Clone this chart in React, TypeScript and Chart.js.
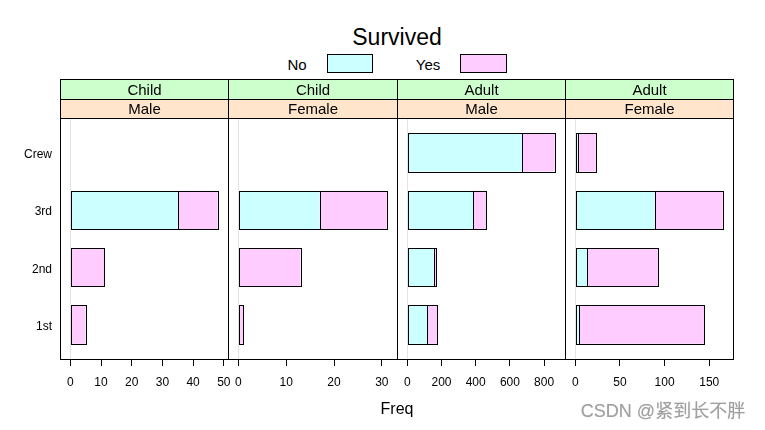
import React, { useEffect, useRef } from "react";
import { Chart, registerables } from "chart.js";

Chart.register(...registerables);

// ---- data ----
const classes = ["1st", "2nd", "3rd", "Crew"];
const classPos = [1, 2, 3, 4];
const ageLabels = ["Child", "Child", "Adult", "Adult"];
const sexLabels = ["Male", "Female", "Male", "Female"];
const noChildMale = [0, 0, 35, 0];
const yesChildMale = [5, 11, 13, 0];
const noChildFemale = [0, 0, 17, 0];
const yesChildFemale = [1, 13, 14, 0];
const noAdultMale = [118, 154, 387, 670];
const yesAdultMale = [57, 14, 75, 192];
const noAdultFemale = [4, 13, 89, 3];
const yesAdultFemale = [140, 80, 76, 20];
const ticksChildMale = [0, 10, 20, 30, 40, 50];
const ticksChildFemale = [0, 10, 20, 30];
const ticksAdultMale = [0, 200, 400, 600, 800];
const ticksAdultFemale = [0, 50, 100, 150];

const panels = [
  { no: noChildMale, yes: yesChildMale, ticks: ticksChildMale },
  { no: noChildFemale, yes: yesChildFemale, ticks: ticksChildFemale },
  { no: noAdultMale, yes: yesAdultMale, ticks: ticksAdultMale },
  { no: noAdultFemale, yes: yesAdultFemale, ticks: ticksAdultFemale },
];

// ---- layout ----
const EDGES = [60, 228, 397, 565, 733];
const CANVAS_TOP = 79;
const PAD_TOP = 39;
const AXIS_H = 40;
const CANVAS_H = 320;
const FONT = "'Liberation Sans', Arial, Helvetica, sans-serif";
const NO_COLOR = "#CCFFFF";
const YES_COLOR = "#FFCCFF";
const STRIP_TOP = "#CCFFCC";
const STRIP_BOT = "#FFE5CC";

const decoPlugin = (idx: number) => ({
  id: "panelDeco" + idx,
  afterDatasetsDraw(chart: any) {
    const { ctx } = chart;
    ctx.save();
    ctx.strokeStyle = "#000";
    ctx.lineWidth = 1;
    chart.data.datasets.forEach((_: any, di: number) => {
      const meta = chart.getDatasetMeta(di);
      meta.data.forEach((el: any) => {
        const { x, base, y, height } = el.getProps(["x", "base", "y", "height"], true);
        if (Math.abs(x - base) < 0.01) return;
        const l = Math.round(Math.min(x, base)) + 0.5;
        const r = Math.round(Math.max(x, base)) + 0.5;
        const t = Math.round(y - height / 2) + 0.5;
        const b = Math.round(y + height / 2) + 0.5;
        ctx.strokeRect(l, t, r - l, b - t);
      });
    });
    ctx.restore();
  },
  afterDraw(chart: any) {
    const { ctx, chartArea: a } = chart;
    const l = Math.round(a.left) + 0.5;
    const r = Math.round(a.right) + 0.5;
    const t = Math.round(a.top) + 0.5;
    const b = Math.round(a.bottom) + 0.5;
    const s1 = t - 39;
    const s2 = t - 19;
    ctx.save();
    ctx.fillStyle = STRIP_TOP;
    ctx.fillRect(l, s1, r - l, s2 - s1);
    ctx.fillStyle = STRIP_BOT;
    ctx.fillRect(l, s2, r - l, t - s2);
    ctx.strokeStyle = "#000";
    ctx.lineWidth = 1;
    ctx.strokeRect(l, s1, r - l, s2 - s1);
    ctx.strokeRect(l, s2, r - l, t - s2);
    ctx.strokeRect(l, t, r - l, b - t);
    ctx.fillStyle = "#000";
    ctx.font = `15px ${FONT}`;
    ctx.textAlign = "center";
    ctx.textBaseline = "middle";
    const cx = (l + r) / 2;
    ctx.fillText(ageLabels[idx], cx, (s1 + s2) / 2 + 1);
    ctx.fillText(sexLabels[idx], cx, (s2 + t) / 2 + 1);
    ctx.restore();
  },
});

function Panel({ idx }: { idx: number }) {
  const ref = useRef<HTMLCanvasElement | null>(null);
  const left = idx === 0 ? 0 : EDGES[idx] - 20;
  const padLeft = idx === 0 ? 0 : 20;
  const width = EDGES[idx + 1] - left + 20;

  useEffect(() => {
    const p = panels[idx];
    const totals = p.no.map((v, i) => v + p.yes[i]);
    const maxT = Math.max(...totals);
    const ext = 0.07 * maxT;
    const chart = new Chart(ref.current as HTMLCanvasElement, {
      type: "bar",
      data: {
        datasets: [
          {
            label: "No",
            data: p.no.map((v, i) => ({ x: v, y: classPos[i] })),
            backgroundColor: NO_COLOR,
            borderWidth: 0,
            inflateAmount: 0,
          },
          {
            label: "Yes",
            data: p.yes.map((v, i) => ({ x: v, y: classPos[i] })),
            backgroundColor: YES_COLOR,
            borderWidth: 0,
            inflateAmount: 0,
          },
        ],
      } as any,
      options: {
        indexAxis: "y",
        responsive: false,
        animation: false,
        devicePixelRatio: 1,
        layout: { padding: { top: PAD_TOP, left: padLeft, right: 20, bottom: 0 } },
        plugins: { legend: { display: false }, tooltip: { enabled: false }, title: { display: false } },
        datasets: { bar: { barPercentage: 2 / 3, categoryPercentage: 1 } },
        scales: {
          x: {
            type: "linear",
            stacked: true,
            offset: false,
            min: -ext,
            max: maxT + ext,
            afterBuildTicks: (s: any) => {
              s.ticks = p.ticks.map((v) => ({ value: v }));
            },
            afterFit: (s: any) => {
              s.height = AXIS_H;
            },
            ticks: {
              autoSkip: false,
              maxRotation: 0,
              color: "#000",
              font: { family: FONT, size: 12 },
              padding: 9,
            },
            grid: {
              drawOnChartArea: true,
              drawTicks: true,
              tickLength: 7,
              tickColor: "#000",
              color: (c: any) => (c.tick && c.tick.value === 0 ? "#e4e4e4" : "rgba(0,0,0,0)"),
            },
            border: { display: false },
          },
          y: {
            type: "linear",
            stacked: true,
            offset: false,
            min: 0.4,
            max: 4.6,
            afterBuildTicks: (s: any) => {
              s.ticks = classPos.map((v) => ({ value: v }));
            },
            afterFit: (s: any) => {
              s.width = idx === 0 ? 60 : 0;
            },
            ticks: {
              display: idx === 0,
              color: "#000",
              font: { family: FONT, size: 12 },
              padding: 8,
              labelOffset: 2,
              callback: (v: any) => classes[classPos.indexOf(Number(v))] ?? "",
            },
            grid: { display: false, drawTicks: false },
            border: { display: false },
          },
        },
      } as any,
      plugins: [decoPlugin(idx)],
    });
    return () => chart.destroy();
  }, [idx]);

  return (
    <canvas
      ref={ref}
      width={width}
      height={CANVAS_H}
      style={{ position: "absolute", left, top: CANVAS_TOP, width, height: CANVAS_H }}
    />
  );
}

const txt = (x: number, y: number, size: number, s: string, extra: any = {}) => (
  <div
    style={{
      position: "absolute",
      left: x,
      top: y,
      transform: "translate(-50%, -50%)",
      fontFamily: FONT,
      fontSize: size,
      lineHeight: 1,
      whiteSpace: "nowrap",
      color: "#000",
      ...extra,
    }}
  >
    {s}
  </div>
);

export default function App() {
  return (
    <div style={{ position: "absolute", left: 0, top: 0, width: 765, height: 430, background: "#fff", overflow: "hidden" }}>
      {txt(397, 37, 23, "Survived")}
      {txt(297, 64, 15, "No")}
      <div style={{ position: "absolute", left: 327, top: 54, width: 44, height: 17, background: NO_COLOR, border: "1px solid #000" }} />
      {txt(428, 64, 15, "Yes")}
      <div style={{ position: "absolute", left: 460, top: 54, width: 45, height: 17, background: YES_COLOR, border: "1px solid #000" }} />
      {[0, 1, 2, 3].map((i) => (
        <Panel key={i} idx={i} />
      ))}
      {txt(397, 409, 16, "Freq")}
      {txt(663, 411, 18, "CSDN @紧到长不胖", {
        color: "#a0a0a0",
        fontFamily: "'Liberation Sans', Arial, 'Noto Sans CJK SC', sans-serif",
        textShadow: "0 0 1px #d0d0d0",
      })}
    </div>
  );
}
